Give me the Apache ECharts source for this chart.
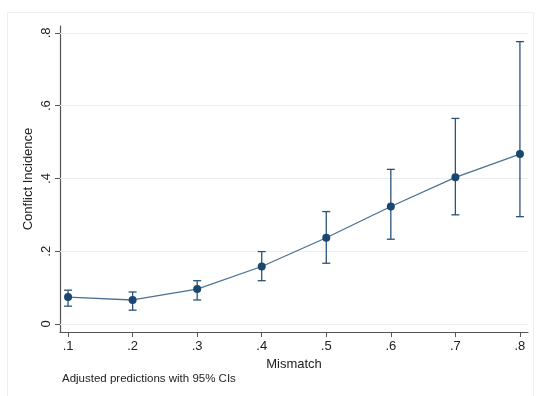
<!DOCTYPE html>
<html>
<head>
<meta charset="utf-8">
<script src="https://cdn.jsdelivr.net/npm/echarts@6/dist/echarts.min.js"></script>
<style>
  html, body { margin: 0; padding: 0; background: #fff; }
  #chart { width: 536px; height: 396px; }
</style>
</head>
<body>
<div id="chart"></div>
<script>
// Mismatch levels and adjusted predictions with 95% confidence intervals
var mismatch = [0.1, 0.2, 0.3, 0.4, 0.5, 0.6, 0.7, 0.8];
var prediction = [0.074, 0.066, 0.096, 0.158, 0.237, 0.323, 0.403, 0.467];
var ciLower = [0.049, 0.038, 0.066, 0.119, 0.167, 0.233, 0.300, 0.295];
var ciUpper = [0.093, 0.088, 0.119, 0.199, 0.309, 0.425, 0.565, 0.776];

var xTicks = [0.1, 0.2, 0.3, 0.4, 0.5, 0.6, 0.7, 0.8];
var yTicks = [0, 0.2, 0.4, 0.6, 0.8];

function stataLabel(v) {
  if (Math.abs(v) < 1e-9) return '0';
  return String(Math.round(v * 10) / 10).replace(/^0/, '');
}

var navy = '#1a476f';
var font = 'Liberation Sans, Arial, sans-serif';

var pointData = mismatch.map(function (x, i) { return [x, prediction[i]]; });
var ciData = mismatch.map(function (x, i) { return [x, ciLower[i], ciUpper[i]]; });

var chart = echarts.init(document.getElementById('chart'), null, { renderer: 'canvas' });

chart.setOption({
  backgroundColor: '#ffffff',
  animation: false,
  textStyle: { fontFamily: font },
  grid: { left: 60, right: 8, top: 26, bottom: 64, containLabel: false },
  xAxis: {
    type: 'value',
    min: 0.0875,
    max: 0.8125,
    name: 'Mismatch',
    nameLocation: 'middle',
    nameGap: 23,
    nameTextStyle: { fontSize: 13, color: '#222', fontFamily: font },
    axisLine: { show: true, onZero: false, lineStyle: { color: '#555', width: 1.2 } },
    axisTick: { show: true, length: 5, customValues: xTicks, lineStyle: { color: '#555' } },
    axisLabel: {
      customValues: xTicks, fontSize: 13, color: '#222', margin: 8, fontFamily: font,
      formatter: stataLabel
    },
    splitLine: { show: false }
  },
  yAxis: {
    type: 'value',
    min: -0.022,
    max: 0.819,
    name: 'Conflict Incidence',
    nameLocation: 'middle',
    nameGap: 25,
    nameMoveOverlap: false,
    nameRotate: 90,
    nameTextStyle: { fontSize: 13, color: '#222', fontFamily: font },
    axisLine: { show: true, onZero: false, lineStyle: { color: '#555', width: 1.2 } },
    axisTick: { show: true, length: 5, customValues: yTicks, lineStyle: { color: '#555' } },
    axisLabel: {
      customValues: yTicks, fontSize: 13, color: '#222', margin: 7, rotate: 90,
      fontFamily: font, formatter: stataLabel
    },
    splitLine: { show: false }
  },
  graphic: [
    {
      type: 'rect',
      shape: { x: 7.5, y: 12.5, width: 526, height: 390 },
      style: { fill: 'none', stroke: '#eceff2', lineWidth: 1 },
      silent: true, z: -1
    },
    {
      type: 'text',
      left: 62, top: 373,
      style: { text: 'Adjusted predictions with 95% CIs', fill: '#222', font: '11.5px ' + font }
    }
  ],
  series: [
    {
      type: 'line',
      data: pointData,
      symbol: 'circle',
      symbolSize: 8,
      itemStyle: { color: navy },
      lineStyle: { color: '#4d7192', width: 1.3 },
      z: 3,
      markLine: {
        silent: true,
        symbol: 'none',
        label: { show: false },
        lineStyle: { color: '#e8eef2', width: 1, type: 'solid' },
        data: yTicks.map(function (v) { return { yAxis: v }; }),
        z: 1
      }
    },
    {
      type: 'custom',
      data: ciData,
      z: 2,
      renderItem: function (params, api) {
        var x = api.value(0);
        var lo = api.coord([x, api.value(1)]);
        var hi = api.coord([x, api.value(2)]);
        var cap = 4;
        var style = { stroke: '#2a5378', lineWidth: 1.3 };
        return {
          type: 'group',
          children: [
            { type: 'line', shape: { x1: lo[0], y1: lo[1], x2: hi[0], y2: hi[1] }, style: style },
            { type: 'line', shape: { x1: hi[0] - cap, y1: hi[1], x2: hi[0] + cap, y2: hi[1] }, style: style },
            { type: 'line', shape: { x1: lo[0] - cap, y1: lo[1], x2: lo[0] + cap, y2: lo[1] }, style: style }
          ]
        };
      }
    }
  ]
});
</script>
</body>
</html>
